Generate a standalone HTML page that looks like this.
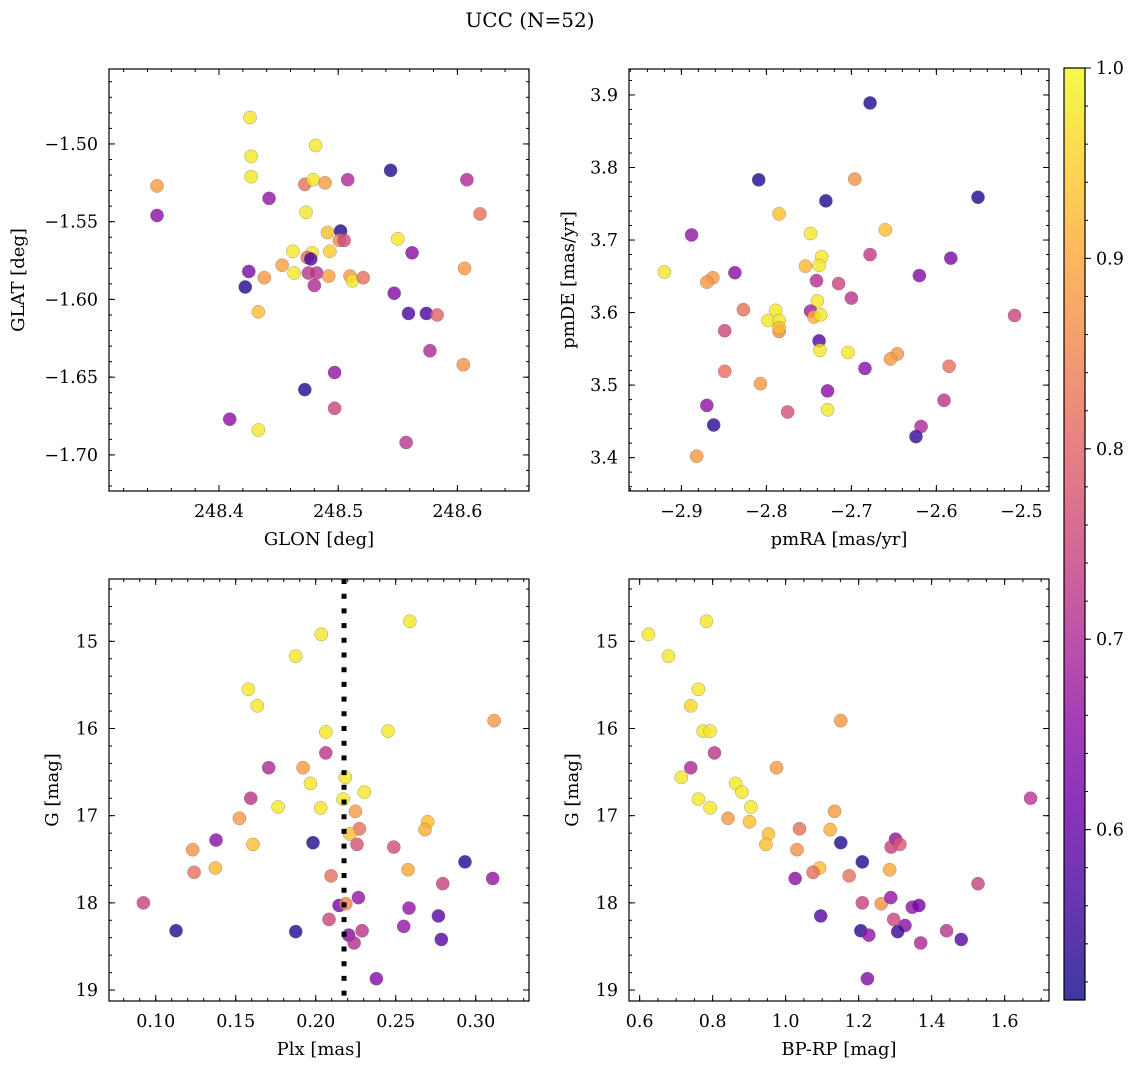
<!DOCTYPE html>
<html><head><meta charset="utf-8">
<style>
html,body{margin:0;padding:0;background:#fff;}
svg{display:block;font-family:"DejaVu Serif","Liberation Serif",serif;}
</style></head>
<body>
<svg id="fig" width="1136" height="1068" viewBox="0 0 1136 1068" xmlns="http://www.w3.org/2000/svg">
<defs>
<linearGradient id="plasma" x1="0" y1="1" x2="0" y2="0">
<stop offset="0" stop-color="#0d0887"/><stop offset="0.1" stop-color="#41049d"/><stop offset="0.2" stop-color="#6a00a8"/><stop offset="0.3" stop-color="#8f0da4"/><stop offset="0.4" stop-color="#b12a90"/><stop offset="0.5" stop-color="#cc4778"/><stop offset="0.6" stop-color="#e16462"/><stop offset="0.7" stop-color="#f2844b"/><stop offset="0.8" stop-color="#fca636"/><stop offset="0.9" stop-color="#fcce25"/><stop offset="1" stop-color="#f0f921"/>
</linearGradient>
</defs>
<text x="530" y="27" text-anchor="middle" font-size="20">UCC (N=52)</text>
</svg>
<script>
// ---- data ----
const glon=[248.426,248.481,248.427,248.427,248.348,248.348,248.472,248.479,248.489,248.508,248.544,248.608,248.619,248.442,248.473,248.491,248.502,248.501,248.505,248.550,248.562,248.462,248.478,248.474,248.477,248.493,248.453,248.463,248.425,248.438,248.422,248.475,248.482,248.480,248.492,248.510,248.512,248.521,248.606,248.547,248.559,248.574,248.583,248.433,248.577,248.605,248.497,248.472,248.497,248.409,248.433,248.557];
const glat=[-1.483,-1.501,-1.508,-1.521,-1.527,-1.546,-1.526,-1.523,-1.525,-1.523,-1.517,-1.523,-1.545,-1.535,-1.544,-1.557,-1.556,-1.562,-1.562,-1.561,-1.570,-1.569,-1.570,-1.573,-1.574,-1.569,-1.578,-1.583,-1.582,-1.586,-1.592,-1.583,-1.583,-1.591,-1.585,-1.585,-1.588,-1.586,-1.580,-1.596,-1.609,-1.609,-1.610,-1.608,-1.633,-1.642,-1.647,-1.658,-1.670,-1.677,-1.684,-1.692];
const probA=[.98,.98,.98,.98,.88,.65,.82,.98,.88,.70,.53,.70,.82,.66,.98,.93,.53,.86,.76,.98,.65,.98,.98,.82,.57,.95,.89,.98,.63,.88,.53,.72,.72,.70,.89,.88,.98,.82,.88,.64,.57,.57,.80,.93,.70,.87,.66,.53,.75,.65,.98,.72];

const pmra=[-2.678,-2.809,-2.696,-2.730,-2.551,-2.785,-2.748,-2.660,-2.888,-2.678,-2.583,-2.735,-2.738,-2.754,-2.920,-2.863,-2.870,-2.837,-2.741,-2.715,-2.700,-2.620,-2.740,-2.748,-2.744,-2.736,-2.789,-2.798,-2.785,-2.785,-2.785,-2.827,-2.849,-2.508,-2.738,-2.737,-2.704,-2.646,-2.654,-2.684,-2.585,-2.849,-2.807,-2.728,-2.591,-2.870,-2.775,-2.728,-2.862,-2.618,-2.624,-2.882];
const pmde=[3.889,3.783,3.784,3.754,3.759,3.736,3.709,3.714,3.707,3.680,3.675,3.677,3.665,3.664,3.656,3.648,3.642,3.655,3.644,3.640,3.620,3.651,3.616,3.602,3.594,3.597,3.603,3.589,3.589,3.574,3.579,3.604,3.575,3.596,3.561,3.548,3.545,3.543,3.536,3.523,3.526,3.519,3.502,3.492,3.479,3.472,3.463,3.466,3.445,3.443,3.429,3.402];
const probB=[.53,.53,.87,.53,.53,.93,.98,.93,.66,.73,.63,.98,.98,.92,.98,.88,.88,.65,.71,.75,.72,.64,.98,.68,.91,.98,.98,.98,.98,.86,.93,.82,.75,.75,.58,.98,.98,.88,.88,.65,.82,.82,.88,.65,.72,.66,.77,.98,.54,.70,.55,.88];

const plx=[0.2588,0.2035,0.1875,0.1579,0.1635,0.3115,0.2063,0.2452,0.2063,0.1706,0.1921,0.1967,0.2185,0.2304,0.2171,0.1594,0.1765,0.2031,0.2248,0.1523,0.2700,0.2683,0.2273,0.2213,0.1377,0.1608,0.1983,0.2258,0.2488,0.1231,0.1373,0.1240,0.2933,0.2577,0.2096,0.3106,0.2794,0.0923,0.2267,0.2146,0.2188,0.2583,0.2767,0.2083,0.1127,0.1875,0.2550,0.2290,0.2206,0.2240,0.2785,0.2379];
const gA=[14.77,14.92,15.17,15.55,15.74,15.91,16.04,16.03,16.28,16.45,16.45,16.63,16.56,16.73,16.81,16.80,16.90,16.91,16.95,17.03,17.07,17.16,17.15,17.21,17.28,17.33,17.31,17.33,17.36,17.39,17.60,17.65,17.53,17.62,17.69,17.72,17.78,18.00,17.94,18.03,18.01,18.06,18.15,18.19,18.32,18.33,18.27,18.32,18.37,18.46,18.42,18.87];
const probC=[.98,.98,.98,.98,.98,.88,.98,.98,.72,.70,.88,.98,.98,.98,.98,.72,.98,.98,.88,.88,.93,.91,.82,.93,.65,.93,.53,.77,.76,.87,.92,.82,.53,.90,.82,.66,.74,.74,.66,.62,.85,.66,.58,.75,.53,.53,.66,.72,.64,.71,.58,.64];
const plxMedian=0.2177;

const bprp=[0.624,0.783,0.679,0.761,0.740,0.774,0.793,1.151,0.805,0.740,0.975,0.714,0.863,0.880,0.761,0.793,0.905,1.671,1.134,0.842,0.901,1.038,1.122,0.953,0.946,1.151,1.301,1.289,1.313,1.031,1.210,1.093,1.075,1.174,1.285,1.026,1.527,1.210,1.262,1.288,1.347,1.365,1.096,1.296,1.327,1.206,1.307,1.228,1.441,1.370,1.481,1.224];
const gB=[14.92,14.77,15.17,15.55,15.74,16.03,16.03,15.91,16.28,16.45,16.45,16.56,16.63,16.73,16.81,16.91,16.90,16.80,16.95,17.03,17.07,17.15,17.16,17.21,17.33,17.31,17.27,17.36,17.33,17.39,17.53,17.60,17.65,17.69,17.62,17.72,17.78,18.00,18.01,17.94,18.05,18.03,18.15,18.19,18.26,18.32,18.33,18.37,18.32,18.46,18.42,18.87];
const probD=[.98,.98,.98,.98,.96,.98,.98,.88,.72,.70,.88,.98,.98,.98,.98,.98,.98,.72,.88,.88,.93,.82,.91,.93,.93,.53,.66,.74,.78,.87,.53,.93,.82,.82,.90,.65,.74,.74,.87,.66,.66,.62,.58,.75,.65,.53,.55,.66,.72,.70,.58,.64];

const cbTicks=[0.6,0.7,0.8,0.9,1.0];
const cbMin=0.5105, cbMax=1.0;

// ---- helpers ----
const NS="http://www.w3.org/2000/svg";
const svg=document.getElementById('fig');
const TF=17.5, LF=18;
function mk(tag,attrs,parent){const e=document.createElementNS(NS,tag);for(const k in attrs)e.setAttribute(k,attrs[k]);(parent||svg).appendChild(e);return e;}
const stops=[[13,8,135],[65,4,157],[106,0,168],[143,13,164],[177,42,144],[204,71,120],[225,100,98],[242,132,75],[252,166,54],[252,206,37],[240,249,33]];
function plasma(v){let t=(v-cbMin)/(cbMax-cbMin);t=Math.max(0,Math.min(1,t))*10;const i=Math.min(9,Math.floor(t)),f=t-i;const a=stops[i],b=stops[i+1];return 'rgb('+a.map((c,j)=>Math.round(c+(b[j]-c)*f)).join(',')+')';}
function fmt(v,d){const s=Math.abs(v).toFixed(d);return (v<-1e-9?'\u2212':'')+s;}

function panel(p){
  const g=mk('g',{});
  
  
  const sx=v=>p.x0+(v-p.xd[0])/(p.xd[1]-p.xd[0])*p.w;
  const sy=v=>p.y0+(v-p.yd[0])/(p.yd[1]-p.yd[0])*p.h;
  const pg=mk('g',{},g);
  
  
  for(let i=0;i<p.xs.length;i++){
    const c=mk('circle',{cx:sx(p.xs[i]),cy:sy(p.ys[i]),r:6.6,fill:plasma(p.pr[i]),'fill-opacity':0.8,stroke:'#666','stroke-width':0.5,'stroke-opacity':0.6},pg);
    
    
  }
  if(p.extra)p.extra(g,sx,sy);
  const fr=mk('rect',{x:p.x0,y:p.y0,width:p.w,height:p.h,fill:'none',stroke:'#000','stroke-width':1.2},g);
  
  
  const tg=mk('g',{stroke:'#000','stroke-width':1},g);
  function rng(a,b,s){const r=[];const st=Math.ceil(Math.min(a,b)/s-1e-6);for(let k=st;k*s<=Math.max(a,b)+1e-9;k++)r.push(+(k*s).toFixed(6));return r;}
  rng(p.xd[0],p.xd[1],p.xmin).forEach(v=>{const x=sx(v);mk('line',{x1:x,x2:x,y1:p.y0+p.h,y2:p.y0+p.h-3},tg);mk('line',{x1:x,x2:x,y1:p.y0,y2:p.y0+3},tg);});
  rng(p.yd[0],p.yd[1],p.ymin).forEach(v=>{const y=sy(v);mk('line',{x1:p.x0,x2:p.x0+3,y1:y,y2:y},tg);mk('line',{x1:p.x0+p.w,x2:p.x0+p.w-3,y1:y,y2:y},tg);});
  p.xt.forEach(v=>{const x=sx(v);mk('line',{x1:x,x2:x,y1:p.y0+p.h,y2:p.y0+p.h-6},tg);mk('line',{x1:x,x2:x,y1:p.y0,y2:p.y0+6},tg);
    const t=mk('text',{x:x,y:p.y0+p.h+26,'text-anchor':'middle','font-size':TF},g);t.textContent=fmt(v,p.xdec);
    
    });
  p.yt.forEach(v=>{const y=sy(v);mk('line',{x1:p.x0,x2:p.x0+6,y1:y,y2:y},tg);mk('line',{x1:p.x0+p.w,x2:p.x0+p.w-6,y1:y,y2:y},tg);
    const t=mk('text',{x:p.x0-11,y:y+6,'text-anchor':'end','font-size':TF},g);t.textContent=fmt(v,p.ydec);
    
    });
  const xl=mk('text',{x:p.x0+p.w/2,y:p.y0+p.h+54,'text-anchor':'middle','font-size':LF},g);xl.textContent=p.xlab;
  
  
  const yl=mk('text',{x:p.ylx,y:p.y0+p.h/2,'text-anchor':'middle','font-size':LF,transform:'rotate(-90 '+p.ylx+' '+(p.y0+p.h/2)+')'},g);yl.textContent=p.ylab;
  
  
}

panel({name:'glon-glat-panel',x0:109,y0:69,w:420,h:422,xd:[248.3077,248.6601],yd:[-1.4518,-1.7232],xs:glon,ys:glat,pr:probA,
  xt:[248.4,248.5,248.6],xdec:1,xmin:0.02,yt:[-1.50,-1.55,-1.60,-1.65,-1.70],ydec:2,ymin:0.01,xlab:'GLON [deg]',ylab:'GLAT [deg]',ylx:24});
panel({name:'pm-panel',x0:629,y0:69,w:420,h:422,xd:[-2.9616,-2.4675],yd:[3.9358,3.354],xs:pmra,ys:pmde,pr:probB,
  xt:[-2.9,-2.8,-2.7,-2.6,-2.5],xdec:1,xmin:0.02,yt:[3.4,3.5,3.6,3.7,3.8,3.9],ydec:1,ymin:0.02,xlab:'pmRA [mas/yr]',ylab:'pmDE [mas/yr]',ylx:574});
panel({name:'plx-g-panel',x0:109,y0:579,w:420,h:422,xd:[0.0708,0.3333],yd:[14.285,19.126],xs:plx,ys:gA,pr:probC,
  xt:[0.10,0.15,0.20,0.25,0.30],xdec:2,xmin:0.01,yt:[15,16,17,18,19],ydec:0,ymin:0.2,xlab:'Plx [mas]',ylab:'G [mag]',ylx:58,
  extra:(g,sx,sy)=>{const x=sx(plxMedian);const l=mk('line',{x1:x,x2:x,y1:579,y2:1001,stroke:'#000','stroke-width':5,'stroke-dasharray':'5 9.7'},g);
    
    }});
panel({name:'cmd-panel',x0:629,y0:579,w:420,h:422,xd:[0.5708,1.7215],yd:[14.285,19.126],xs:bprp,ys:gB,pr:probD,
  xt:[0.6,0.8,1.0,1.2,1.4,1.6],xdec:1,xmin:0.05,yt:[15,16,17,18,19],ydec:0,ymin:0.2,xlab:'BP-RP [mag]',ylab:'G [mag]',ylx:578});

// colorbar
(function(){
  const x0=1064,y0=68,w=21,h=932;
  const cg=mk('g',{});
  
  
  mk('rect',{x:x0,y:y0,width:w,height:h,fill:'#fff'},cg);
  mk('rect',{x:x0,y:y0,width:w,height:h,fill:'url(#plasma)','fill-opacity':0.8},cg);
  mk('rect',{x:x0,y:y0,width:w,height:h,fill:'none',stroke:'#000','stroke-width':1.2},cg);
  const cy=v=>y0+h-(v-cbMin)/(cbMax-cbMin)*h;
  for(let k=26;k<=50;k++){const v=k*0.02;if(v<cbMin)continue;const y=cy(v);mk('line',{x1:x0+w,x2:x0+w+3,y1:y,y2:y,stroke:'#000','stroke-width':1},cg);}
  cbTicks.forEach(v=>{const y=cy(v);mk('line',{x1:x0+w,x2:x0+w+6,y1:y,y2:y,stroke:'#000','stroke-width':1},cg);
    const t=mk('text',{x:x0+w+11,y:y+6,'font-size':TF},cg);t.textContent=v.toFixed(1);
    
    });
})();
</script>
</body></html>
